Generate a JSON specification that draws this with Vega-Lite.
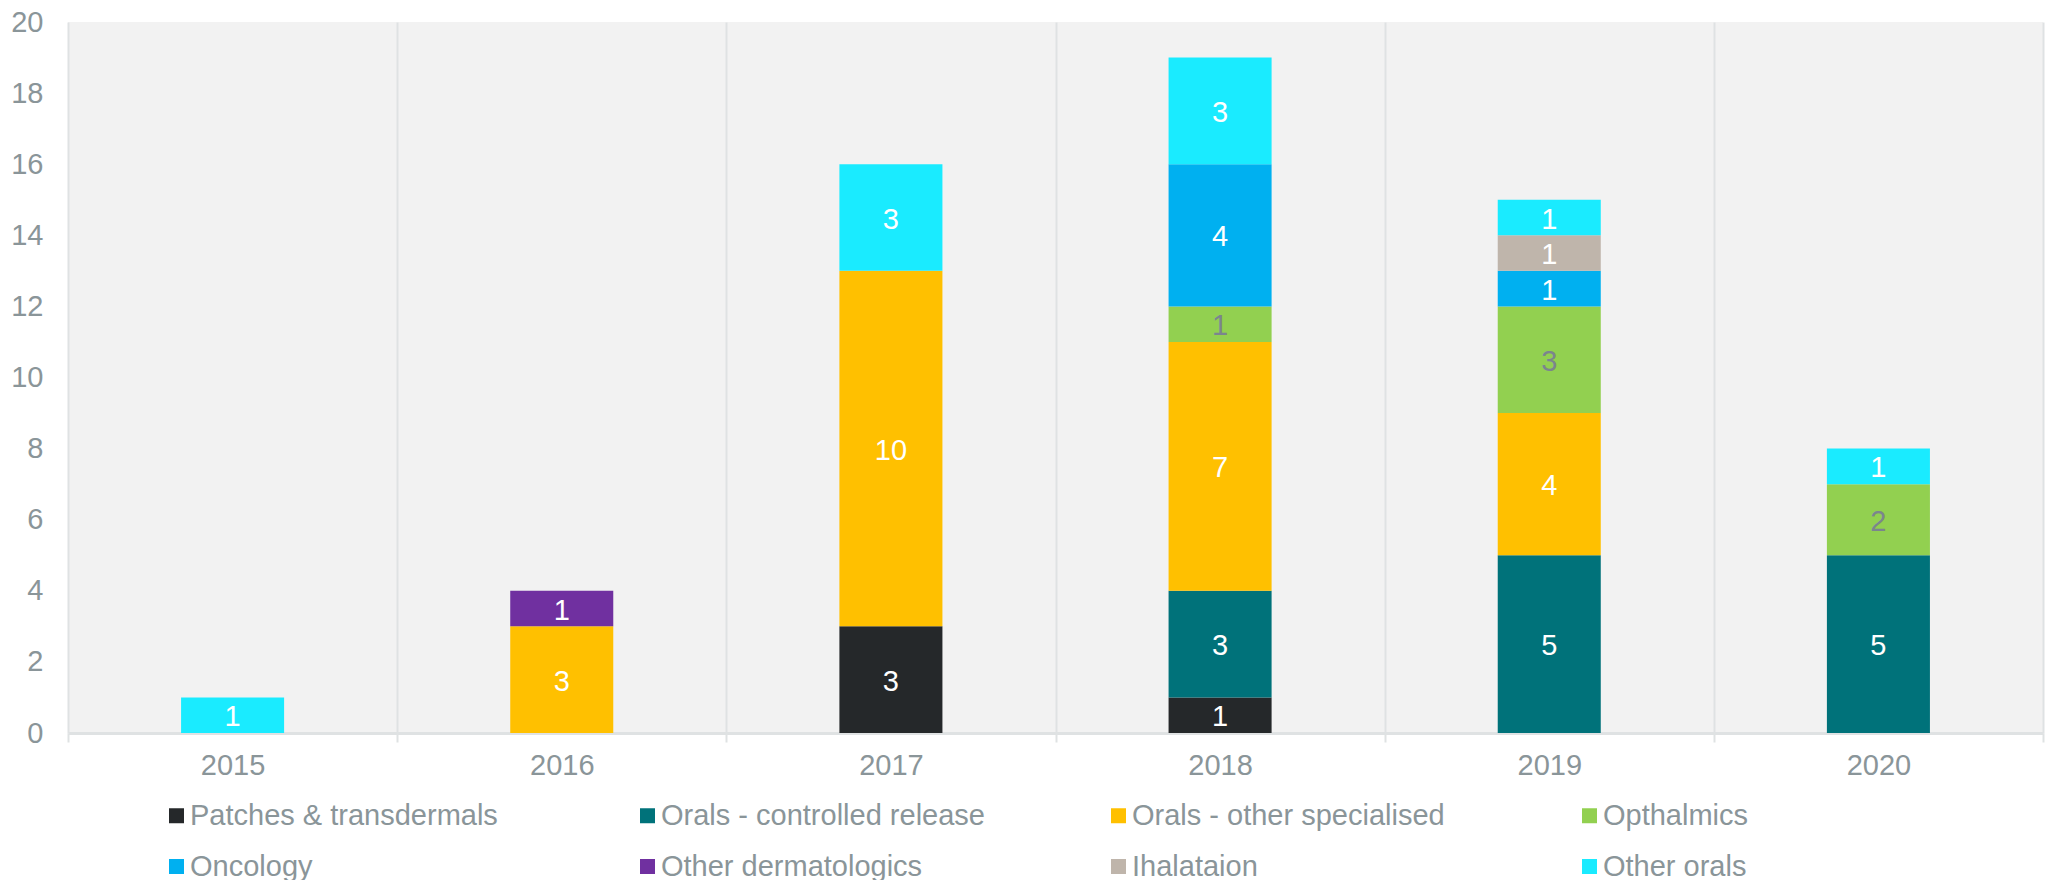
{
  "$schema": "https://vega.github.io/schema/vega-lite/v6.json",
  "width": 1975,
  "height": 711,
  "autosize": {"type": "none"},
  "padding": {"left": 68, "top": 22, "right": 6, "bottom": 147},
  "background": "white",
  "config": {
    "font": "Liberation Sans",
    "view": {"fill": "#f2f2f2", "stroke": null}
  },
  "data": {
    "values": [
      {"year": "2015", "category": "Other orals", "value": 1},
      {"year": "2016", "category": "Orals - other specialised", "value": 3},
      {"year": "2016", "category": "Other dermatologics", "value": 1},
      {"year": "2017", "category": "Patches & transdermals", "value": 3},
      {"year": "2017", "category": "Orals - other specialised", "value": 10},
      {"year": "2017", "category": "Other orals", "value": 3},
      {"year": "2018", "category": "Patches & transdermals", "value": 1},
      {"year": "2018", "category": "Orals - controlled release", "value": 3},
      {"year": "2018", "category": "Orals - other specialised", "value": 7},
      {"year": "2018", "category": "Opthalmics", "value": 1},
      {"year": "2018", "category": "Oncology", "value": 4},
      {"year": "2018", "category": "Other orals", "value": 3},
      {"year": "2019", "category": "Orals - controlled release", "value": 5},
      {"year": "2019", "category": "Orals - other specialised", "value": 4},
      {"year": "2019", "category": "Opthalmics", "value": 3},
      {"year": "2019", "category": "Oncology", "value": 1},
      {"year": "2019", "category": "Ihalataion", "value": 1},
      {"year": "2019", "category": "Other orals", "value": 1},
      {"year": "2020", "category": "Orals - controlled release", "value": 5},
      {"year": "2020", "category": "Opthalmics", "value": 2},
      {"year": "2020", "category": "Other orals", "value": 1}
    ]
  },
  "transform": [
    {"calculate": "indexof(['Patches & transdermals','Orals - controlled release','Orals - other specialised','Opthalmics','Oncology','Other dermatologics','Ihalataion','Other orals'], datum.category)", "as": "ord"}
  ],
  "encoding": {
    "x": {
      "field": "year",
      "type": "ordinal",
      "scale": {"paddingInner": 0, "paddingOuter": 0},
      "axis": {
        "title": null,
        "labelAngle": 0,
        "tickBand": "extent",
        "grid": true,
        "gridColor": "#dfe2e3",
        "gridWidth": 2,
        "domainColor": "#dfe2e3",
        "domainWidth": 3,
        "tickColor": "#dfe2e3",
        "tickSize": 9,
        "tickWidth": 2,
        "labelFontSize": 29,
        "labelColor": "#8a9599",
        "labelPadding": 9
      }
    }
  },
  "layer": [
    {
      "mark": {"type": "bar", "width": {"band": 0.313}},
      "encoding": {
        "y": {
          "field": "value",
          "type": "quantitative",
          "stack": "zero",
          "scale": {"domain": [0, 20]},
          "axis": {
            "values": [0, 2, 4, 6, 8, 10, 12, 14, 16, 18, 20],
            "domain": false,
            "ticks": false,
            "grid": false,
            "labelFontSize": 29,
            "labelColor": "#8a9599",
            "labelPadding": 25,
            "title": null
          }
        },
        "color": {
          "field": "category",
          "type": "nominal",
          "scale": {
            "domain": ["Patches & transdermals", "Orals - controlled release", "Orals - other specialised", "Opthalmics", "Oncology", "Other dermatologics", "Ihalataion", "Other orals"],
            "range": ["#25282a", "#00727a", "#ffc000", "#92d050", "#00b0f0", "#7030a0", "#bfb5ab", "#1aebff"]
          },
          "legend": {
            "title": null,
            "orient": "none",
            "legendX": 94,
            "legendY": 779,
            "direction": "horizontal",
            "columns": 4,
            "gridAlign": "all",
            "columnPadding": 119,
            "rowPadding": 21,
            "symbolType": "square",
            "symbolSize": 225,
            "symbolStrokeWidth": 0,
            "labelFontSize": 29,
            "labelColor": "#8a9599",
            "labelOffset": -1,
            "labelLimit": 400
          }
        },
        "order": {"field": "ord", "type": "quantitative", "sort": "ascending"}
      }
    },
    {
      "mark": {"type": "text", "fontSize": 29, "baseline": "middle", "align": "center", "dy": 2},
      "encoding": {
        "y": {"field": "value", "type": "quantitative", "stack": "zero", "bandPosition": 0.5, "title": null},
        "detail": {"field": "category", "type": "nominal"},
        "order": {"field": "ord", "type": "quantitative", "sort": "ascending"},
        "text": {"field": "value", "type": "quantitative"},
        "color": {
          "condition": {"test": "datum.category === 'Opthalmics'", "value": "#7b858e"},
          "value": "white"
        }
      }
    }
  ]
}
